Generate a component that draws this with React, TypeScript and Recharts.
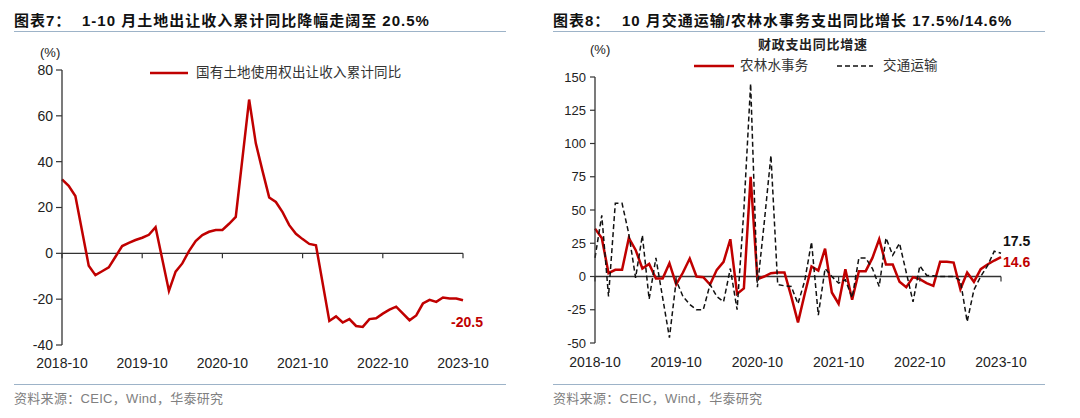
import React from 'react'
import { LineChart, Line, XAxis, YAxis, ReferenceLine, LabelList } from 'recharts'

// monthly categories 2018-10 .. 2023-10
const months: string[] = []
for (let y = 2018; y <= 2023; y++) {
  for (let m = 1; m <= 12; m++) {
    if ((y === 2018 && m < 10) || (y === 2023 && m > 10)) continue
    months.push(`${y}-${String(m).padStart(2, '0')}`)
  }
}

// 国有土地使用权出让收入累计同比 (%), January has no cumulative print
const landYoy: (number | null)[] = [
  32.3, 29.5, 25.0,
  null, -5.4, -9.5, -7.8, -6.1, -1.5, 3.2, 4.6, 5.8, 6.8, 8.1, 11.4,
  null, -16.4, -8.0, -4.4, 1.0, 5.4, 8.0, 9.4, 10.2, 10.2, 12.9, 15.9,
  null, 67.1, 48.0, 36.0, 24.4, 22.4, 18.0, 12.3, 8.5, 6.2, 4.1, 3.5,
  null, -29.5, -27.5, -30.2, -28.7, -31.7, -32.1, -28.7, -28.3, -26.3, -24.6, -23.3,
  null, -29.2, -27.1, -21.9, -20.3, -21.2, -19.3, -19.7, -19.7, -20.5,
]

// 财政支出同比: 农林水事务 (%)
const agriYoy: number[] = [
  36, 29, 2.5,
  5, 5, 29, 20, 6, 9.5, -1.5, -1.5, 10, -6, 3, 13.5,
  0, -0.5, -6, 5, 11, 28, -13, -9, 75, -2, 0, 2.5,
  3, 3, -15, -34.5, -13, 7.5, 4.5, 21, -12, -20.5, 5.5, -17.5,
  4, 4, 14, 28, 9, 9, -4, -8, -0.5, -2, -5, -7,
  11, 11, 10.5, -9.5, 3, -4, 5.5, 9, 12, 14.6,
]

// 财政支出同比: 交通运输 (%)
const transportYoy: number[] = [
  14, 46, -15,
  55, 55, 32, -1, 31, -17, 14, -16, -46, -3, -15, -21,
  -25, -25, -6, -15, -19, 6, -25, 50, 145, -8, 40, 91,
  -6, -7, -7.5, -20.5, -3, 26, -29, 6, 0, -5, -2.5, -16,
  14, 14, 6, -7.5, 29, 16, 25, 3, -19, 8, 1, 0.5,
  0, 0, 0, -3, -34, -10, 0, 8, 19, 17.5,
]

const landTicks = [-40, -20, 0, 20, 40, 60, 80]
const spendTicks = [-50, -25, 0, 25, 50, 75, 100, 125, 150]

const RED = '#C00000'
const AXIS = '#333'
const LATIN = "'Liberation Sans', Arial, sans-serif"
const CJK = "'Liberation Sans', 'Noto Sans CJK SC', sans-serif"

const landData = months.map((m, i) => ({ m, land: landYoy[i] }))
const spendData = months.map((m, i) => ({ m, agri: agriYoy[i], transport: transportYoy[i] }))

const last = months.length - 1

// x tick: label at the bottom, small tick mark hanging off the zero line
function makeXTick(zeroOffset: number, textDy: number) {
  return (props: any) => {
    const { x, y, payload } = props
    return (
      <g>
        <line x1={x} x2={x} y1={y - zeroOffset} y2={y - zeroOffset + 5} stroke={AXIS} strokeWidth={1.2} />
        <text x={x} y={y + textDy} textAnchor="middle" fontSize={14} fontFamily={LATIN} fill="#222">
          {payload.value}
        </text>
      </g>
    )
  }
}

function endLabel(text: string, color: string, dx: number, dy: number, anchor: string) {
  return (props: any) => {
    if (props.index !== last) return null
    return (
      <text
        x={props.x + dx}
        y={props.y + dy}
        textAnchor={anchor}
        dominantBaseline="middle"
        fontSize={14}
        fontWeight="bold"
        fontFamily={LATIN}
        fill={color}
      >
        {text}
      </text>
    )
  }
}

const abs = (left: number, top: number, extra: React.CSSProperties = {}): React.CSSProperties => ({
  position: 'absolute',
  left,
  top,
  whiteSpace: 'nowrap',
  ...extra,
})

function Rule({ left, top, width }: { left: number; top: number; width: number }) {
  return <div style={abs(left, top, { width, height: 0, borderTop: '1.5px solid #9DB3C8' })} />
}

// left panel geometry
const L_H = 418
const L_MARGIN = { top: 70, right: 77, bottom: 43, left: 0 }
const L_XH = 30
const L_PLOT_H = L_H - L_MARGIN.top - L_MARGIN.bottom - L_XH
const L_ZERO = (L_PLOT_H * (0 - landTicks[0])) / (landTicks[landTicks.length - 1] - landTicks[0])

// right panel geometry
const R_H = 418
const R_MARGIN = { top: 77, right: 79, bottom: 45, left: 0 }
const R_XH = 30
const R_PLOT_H = R_H - R_MARGIN.top - R_MARGIN.bottom - R_XH
const R_ZERO = (R_PLOT_H * (0 - spendTicks[0])) / (spendTicks[spendTicks.length - 1] - spendTicks[0])

export default function App() {
  const titleStyle: React.CSSProperties = {
    fontSize: 15,
    lineHeight: '15px',
    fontWeight: 'bold',
    fontFamily: CJK,
    color: '#111',
    letterSpacing: 1,
  }
  const footStyle: React.CSSProperties = { fontSize: 13, lineHeight: '13px', fontFamily: CJK, color: '#808080', letterSpacing: 0.3 }
  const legendText: React.CSSProperties = { fontSize: 13.5, lineHeight: '14px', fontFamily: CJK, color: '#333', letterSpacing: 0.2 }

  return (
    <div style={{ position: 'absolute', left: 0, top: 0, width: 1080, height: 418, background: '#fff', overflow: 'hidden' }}>
      {/* headers */}
      <div style={abs(14, 13, titleStyle)}>图表7：</div>
      <div style={abs(82, 13, titleStyle)}>1-10 月土地出让收入累计同比降幅走阔至 20.5%</div>
      <Rule left={14} top={31} width={492} />
      <div style={abs(553, 13, titleStyle)}>图表8：</div>
      <div style={abs(622, 13, titleStyle)}>10 月交通运输/农林水事务支出同比增长 17.5%/14.6%</div>
      <Rule left={553} top={31} width={492} />

      {/* left chart */}
      <div style={abs(40, 46, { fontSize: 13, lineHeight: '13px', fontFamily: LATIN, color: '#222' })}>(%)</div>
      <svg style={abs(150, 70)} width={38} height={6}>
        <line x1={0} x2={38} y1={3} y2={3} stroke={RED} strokeWidth={2.5} />
      </svg>
      <div style={abs(196, 66, legendText)}>国有土地使用权出让收入累计同比</div>
      <div style={abs(0, 0)}>
        <LineChart width={540} height={L_H} data={landData} margin={L_MARGIN}>
          <XAxis
            dataKey="m"
            type="category"
            scale="point"
            interval={11}
            axisLine={false}
            tickLine={false}
            tickSize={0}
            tickMargin={0}
            height={L_XH}
            tick={makeXTick(L_ZERO, 22.5)}
          />
          <YAxis
            width={62}
            domain={[landTicks[0], landTicks[landTicks.length - 1]]}
            ticks={landTicks}
            interval={0}
            axisLine={{ stroke: AXIS, strokeWidth: 1.3 }}
            tickLine={{ stroke: AXIS, strokeWidth: 1.2 }}
            tickSize={6}
            tickMargin={3}
            tick={{ fontSize: 14, fontFamily: LATIN, fill: '#222' }}
          />
          <ReferenceLine y={0} stroke={AXIS} strokeWidth={1.3} />
          <Line
            type="linear"
            dataKey="land"
            stroke={RED}
            strokeWidth={2.5}
            dot={false}
            activeDot={false}
            connectNulls
            isAnimationActive={false}
          >
            <LabelList dataKey="land" content={endLabel('-20.5', RED, 4, 23, 'middle')} />
          </Line>
        </LineChart>
      </div>
      <Rule left={14} top={384} width={492} />
      <div style={abs(14, 392, footStyle)}>资料来源：CEIC，Wind，华泰研究</div>

      {/* right chart */}
      <div style={abs(758, 38, { fontSize: 13, lineHeight: '14px', fontWeight: 'bold', fontFamily: CJK, color: '#222', letterSpacing: 0.7 })}>
        财政支出同比增速
      </div>
      <div style={abs(590, 43, { fontSize: 13, lineHeight: '13px', fontFamily: LATIN, color: '#222' })}>(%)</div>
      <svg style={abs(694, 63)} width={40} height={6}>
        <line x1={0} x2={40} y1={3} y2={3} stroke={RED} strokeWidth={2.5} />
      </svg>
      <div style={abs(740, 59, legendText)}>农林水事务</div>
      <svg style={abs(837, 63)} width={36} height={6}>
        <line x1={0} x2={36} y1={3} y2={3} stroke="#111" strokeWidth={1.5} strokeDasharray="5 3" />
      </svg>
      <div style={abs(883, 59, legendText)}>交通运输</div>
      <div style={abs(540, 0)}>
        <LineChart width={540} height={R_H} data={spendData} margin={R_MARGIN}>
          <XAxis
            dataKey="m"
            type="category"
            scale="point"
            interval={11}
            axisLine={false}
            tickLine={false}
            tickSize={0}
            tickMargin={0}
            height={R_XH}
            tick={makeXTick(R_ZERO, 23.5)}
          />
          <YAxis
            width={55}
            domain={[spendTicks[0], spendTicks[spendTicks.length - 1]]}
            ticks={spendTicks}
            interval={0}
            axisLine={{ stroke: AXIS, strokeWidth: 1.3 }}
            tickLine={{ stroke: AXIS, strokeWidth: 1.2 }}
            tickSize={5}
            tickMargin={4}
            tick={{ fontSize: 13, fontFamily: LATIN, fill: '#222' }}
          />
          <ReferenceLine y={0} stroke={AXIS} strokeWidth={1.3} />
          <Line
            type="linear"
            dataKey="agri"
            stroke={RED}
            strokeWidth={2.5}
            dot={false}
            activeDot={false}
            isAnimationActive={false}
          >
            <LabelList dataKey="agri" content={endLabel('14.6', RED, 2, 6, 'start')} />
          </Line>
          <Line
            type="linear"
            dataKey="transport"
            stroke="#111"
            strokeWidth={1.5}
            strokeDasharray="5 3"
            dot={false}
            activeDot={false}
            isAnimationActive={false}
          >
            <LabelList dataKey="transport" content={endLabel('17.5', '#111', 2, -11, 'start')} />
          </Line>
        </LineChart>
      </div>
      <Rule left={553} top={384} width={492} />
      <div style={abs(553, 392, footStyle)}>资料来源：CEIC，Wind，华泰研究</div>
    </div>
  )
}
